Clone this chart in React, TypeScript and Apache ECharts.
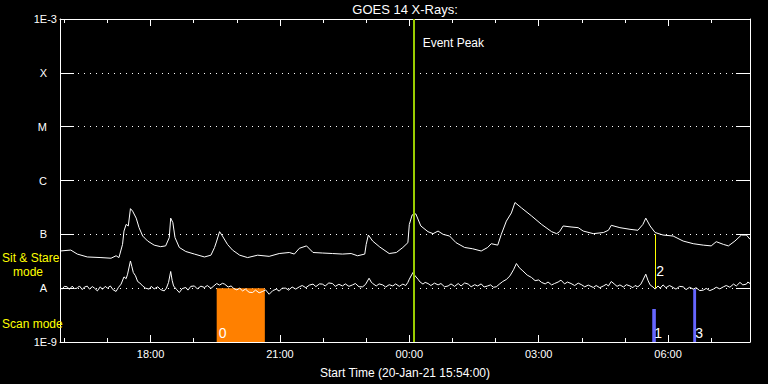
import React, { useEffect, useRef } from "react";
import * as echarts from "echarts";

const TITLE = "GOES 14 X-Rays:";
const X_NAME = "Start Time (20-Jan-21 15:54:00)";
const X_MIN = "15:54";
const X_MAX = "07:54";
const MAJOR_TICKS = ["18:00", "21:00", "00:00", "03:00", "06:00"];
const MINOR_TICKS = ["16:00", "17:00", "18:00", "19:00", "20:00", "21:00", "22:00", "23:00", "00:00", "01:00", "02:00", "03:00", "04:00", "05:00", "06:00", "07:00"];
const Y_LEVELS = [1e-9, 1e-8, 1e-7, 1e-6, 1e-5, 1e-4, 1e-3];
const Y_LABELS = ["1E-9", "A", "B", "C", "M", "X", "1E-3"];

const longTimes = ["15:54","16:09","16:18","16:32","16:51","17:05","17:12","17:16","17:21","17:23","17:26","17:29","17:32","17:35","17:40","17:44","17:49","17:56","18:05","18:14","18:21","18:26","18:28","18:31","18:34","18:40","18:49","19:01","19:15","19:24","19:29","19:32","19:36","19:40","19:47","19:54","20:04","20:15","20:29","20:45","20:59","21:13","21:20","21:27","21:37","21:46","21:59","22:13","22:27","22:39","22:48","22:58","23:00","23:03","23:09","23:19","23:32","23:42","23:51","23:58","00:00","00:04","00:09","00:16","00:26","00:33","00:40","00:47","00:56","01:05","01:17","01:28","01:40","01:49","01:54","02:03","02:08","02:15","02:22","02:27","02:36","02:50","03:04","03:18","03:25","03:29","03:34","03:45","03:55","04:02","04:16","04:30","04:37","04:41","04:53","05:07","05:18","05:25","05:29","05:35","05:42","05:53","06:07","06:21","06:35","06:49","07:00","07:07","07:17","07:24","07:33","07:42","07:49","07:54"];
const longFlux = [4.9e-8,5.1e-8,4.3e-8,3.8e-8,3.7e-8,3.6e-8,4.0e-8,3.7e-8,6.5e-8,1.15e-7,1.53e-7,1.43e-7,3.0e-7,2.7e-7,2.0e-7,1.33e-7,9.3e-8,7.5e-8,6.3e-8,5.9e-8,6.1e-8,8.7e-8,2.0e-7,1.65e-7,8.7e-8,5.7e-8,4.8e-8,4.3e-8,3.8e-8,4.1e-8,5.7e-8,7.5e-8,1.12e-7,9.3e-8,6.5e-8,5.1e-8,4.1e-8,3.7e-8,4.1e-8,3.9e-8,4.4e-8,4.6e-8,4.3e-8,5.5e-8,6.1e-8,4.6e-8,4.5e-8,4.4e-8,4.3e-8,4.4e-8,4.0e-8,4.3e-8,6.5e-8,9.7e-8,7.5e-8,5.8e-8,4.4e-8,4.6e-8,5.7e-8,7.0e-8,1.53e-7,2.3e-7,2.4e-7,1.43e-7,1.12e-7,1.03e-7,1.15e-7,1.0e-7,9.3e-8,7.0e-8,5.7e-8,5.4e-8,4.9e-8,5.7e-8,6.7e-8,6.3e-8,1.0e-7,1.76e-7,2.5e-7,3.9e-7,3.1e-7,2.2e-7,1.53e-7,1.12e-7,1.03e-7,1.12e-7,1.43e-7,1.37e-7,1.33e-7,1.15e-7,1.03e-7,1.08e-7,1.19e-7,1.47e-7,1.33e-7,1.24e-7,1.19e-7,1.53e-7,2.0e-7,1.43e-7,1.08e-7,9.7e-8,9.3e-8,7.5e-8,6.7e-8,6.3e-8,6.1e-8,7.3e-8,6.5e-8,6.1e-8,7.5e-8,9.7e-8,9.7e-8,8.1e-8];

// short channel: [time, flux]
const shortReadings: [string, number][] = [
  ["15:54",1.03e-8],["15:57",9.6e-9],["16:00",1.08e-8],["16:04",1.06e-8],["16:07",9.5e-9],["16:11",1.09e-8],["16:14",9.8e-9],["16:18",1.0e-8],
  ["16:21",1.1e-8],["16:25",9.4e-9],["16:28",1.05e-8],["16:32",1.09e-8],["16:35",9.6e-9],["16:39",1.07e-8],["16:42",1.0e-8],["16:46",8.9e-9],
  ["16:50",1.06e-8],["16:53",9.5e-9],["16:57",1.08e-8],["17:00",1.0e-8],["17:04",1.1e-8],["17:08",9.3e-9],["17:12",8.7e-9],["17:15",1.02e-8],
  ["17:19",1.19e-8],["17:23",1.62e-8],["17:26",1.5e-8],["17:28",1.82e-8],["17:32",3.2e-8],["17:34",2.5e-8],["17:36",1.95e-8],["17:39",1.7e-8],
  ["17:42",1.33e-8],["17:45",1.25e-8],["17:49",1.1e-8],["17:53",1.0e-8],["17:58",9.6e-9],["18:01",1.08e-8],["18:05",9.7e-9],["18:10",1.06e-8],
  ["18:14",9.4e-9],["18:19",8.9e-9],["18:22",1.0e-8],["18:25",1.28e-8],["18:28",2.04e-8],["18:30",1.4e-8],["18:32",1.1e-8],["18:36",9.5e-9],
  ["18:40",8.3e-9],["18:44",9.8e-9],["18:49",1.03e-8],["18:52",9.2e-9],["18:56",1.08e-8],["19:01",1.1e-8],["19:05",9.7e-9],["19:10",1.09e-8],
  ["19:15",1.03e-8],["19:19",1.12e-8],["19:24",9.9e-9],["19:28",1.1e-8],["19:32",1.22e-8],["19:36",1.14e-8],["19:40",1.23e-8],["19:43",1.19e-8],
  ["19:48",1.05e-8],["19:52",1.1e-8],["19:56",9.8e-9],["20:00",9.3e-9],["20:04",1.0e-8],["20:08",8.9e-9],["20:12",9.6e-9],["20:17",8.4e-9],
  ["20:22",8.3e-9],["20:26",9.2e-9],["20:31",8.2e-9],["20:36",8.7e-9],["20:40",9.3e-9],["20:45",7.7e-9],["20:50",9.0e-9],["20:55",9.6e-9],
  ["20:59",8.8e-9],["21:03",1.0e-8],["21:08",1.0e-8],["21:12",9.2e-9],["21:17",1.05e-8],["21:22",9.6e-9],["21:27",1.06e-8],["21:31",1.12e-8],
  ["21:36",1.02e-8],["21:41",1.14e-8],["21:46",1.19e-8],["21:50",1.07e-8],["21:55",1.2e-8],["21:59",1.19e-8],["22:03",1.1e-8],["22:08",1.25e-8],
  ["22:13",1.22e-8],["22:17",1.08e-8],["22:22",1.18e-8],["22:27",1.1e-8],["22:31",1.2e-8],["22:36",1.08e-8],["22:41",1.15e-8],["22:45",1.22e-8],
  ["22:50",1.06e-8],["22:55",1.06e-8],["22:59",1.17e-8],["23:04",1.53e-8],["23:07",1.3e-8],["23:09",1.22e-8],["23:14",1.1e-8],["23:18",1.2e-8],
  ["23:23",1.15e-8],["23:27",1.05e-8],["23:32",1.16e-8],["23:37",1.1e-8],["23:41",1.2e-8],["23:46",1.08e-8],["23:51",1.19e-8],["23:55",1.12e-8],
  ["23:58",1.28e-8],["00:00",1.47e-8],["00:05",1.95e-8],["00:08",1.7e-8],["00:12",1.47e-8],["00:15",1.3e-8],["00:19",1.19e-8],["00:22",1.28e-8],
  ["00:26",1.22e-8],["00:30",1.12e-8],["00:35",1.24e-8],["00:40",1.15e-8],["00:44",1.22e-8],["00:49",1.06e-8],["00:54",1.1e-8],["00:58",1.2e-8],
  ["01:03",1.08e-8],["01:08",1.22e-8],["01:12",1.1e-8],["01:17",1.25e-8],["01:22",1.19e-8],["01:26",1.06e-8],["01:31",1.16e-8],["01:35",1.1e-8],
  ["01:40",1.2e-8],["01:44",1.05e-8],["01:49",1.1e-8],["01:53",1.15e-8],["01:57",1.04e-8],["02:01",1.06e-8],["02:05",1.18e-8],["02:10",1.33e-8],
  ["02:15",1.45e-8],["02:20",1.69e-8],["02:25",2.2e-8],["02:29",2.87e-8],["02:33",2.4e-8],["02:38",2.09e-8],["02:44",1.75e-8],["02:50",1.58e-8],
  ["02:55",1.38e-8],["03:00",1.42e-8],["03:04",1.28e-8],["03:09",1.2e-8],["03:13",1.3e-8],["03:18",1.15e-8],["03:22",1.22e-8],["03:27",1.3e-8],
  ["03:31",1.41e-8],["03:36",1.2e-8],["03:40",1.3e-8],["03:45",1.22e-8],["03:50",1.12e-8],["03:55",1.24e-8],["04:00",1.15e-8],["04:04",1.06e-8],
  ["04:09",1.14e-8],["04:16",1.03e-8],["04:20",1.12e-8],["04:25",1.02e-8],["04:30",1.1e-8],["04:34",1.18e-8],["04:37",1.1e-8],["04:41",1.33e-8],
  ["04:45",1.2e-8],["04:49",1.08e-8],["04:53",1.15e-8],["04:58",1.05e-8],["05:02",1.16e-8],["05:07",1.1e-8],["05:11",1.02e-8],["05:14",1.12e-8],
  ["05:18",1.06e-8],["05:22",1.18e-8],["05:25",1.41e-8],["05:29",1.82e-8],["05:32",1.4e-8],["05:35",1.15e-8],["05:39",1.05e-8],["05:42",9.6e-9],
  ["05:46",1.1e-8],["05:49",1.0e-8],["05:53",1.15e-8],["05:57",1.02e-8],["06:02",1.12e-8],["06:07",1.03e-8],["06:11",9.6e-9],["06:16",1.08e-8],
  ["06:21",1.06e-8],["06:25",9.4e-9],["06:30",1.04e-8],["06:35",9.6e-9],["06:39",1.02e-8],["06:44",9.0e-9],["06:49",9.2e-9],["06:53",9.9e-9],
  ["06:58",9.0e-9],["07:03",9.6e-9],["07:07",1.04e-8],["07:12",9.7e-9],["07:17",1.06e-8],["07:21",1.12e-8],["07:26",1.04e-8],["07:31",1.19e-8],
  ["07:35",1.1e-8],["07:40",1.28e-8],["07:44",1.15e-8],["07:49",1.19e-8],["07:51",1.3e-8],["07:54",1.22e-8],
];

const EVENT_PEAK = "00:06";
const EVENT_LABEL = "Event Peak";
const SCAN_LABELS = ["0", "1", "3"];
const SCAN_STARTS = ["19:32", "05:38", "06:35"];
const SCAN_ENDS = ["20:39", "05:43", "06:39"];
const SCAN_TOPS = [1e-8, 4.1e-9, 9.6e-9];
const SCAN_COLORS = ["#ff8000", "#6666ff", "#6666ff"];
const STARE_LABEL = "2";
const STARE_TIME = "05:42";
const STARE_RANGE = [1e-8, 1e-7];
const MODE_LABELS = ["Sit & Stare", "mode", "Scan mode"];

const FONT = "Liberation Sans";

function toMin(s: string): number {
  const [h, m] = s.split(":").map(Number);
  return h * 60 + m + (h < 12 ? 1440 : 0);
}
function fmtMin(v: number): string {
  const t = Math.round(v) % 1440;
  const h = Math.floor(t / 60);
  const m = t % 60;
  return String(h).padStart(2, "0") + ":" + String(m).padStart(2, "0");
}

export default function App() {
  const ref = useRef<HTMLDivElement>(null);
  useEffect(() => {
    if (!ref.current) return;
    const chart = echarts.init(ref.current, null, { renderer: "svg" });
    const xmin = toMin(X_MIN);
    const xmax = toMin(X_MAX);
    const major = MAJOR_TICKS.map(toMin);
    const minor = MINOR_TICKS.map(toMin);
    const white = "#ffffff";
    const xBase = {
      type: "value",
      min: xmin,
      max: xmax,
      splitLine: { show: false },
      axisLine: { show: true, lineStyle: { color: white, width: 1 } },
    };
    const yBase = {
      type: "log",
      logBase: 10,
      min: Y_LEVELS[0],
      max: Y_LEVELS[Y_LEVELS.length - 1],
      splitNumber: 6,
      axisLine: { show: true, lineStyle: { color: white, width: 1 } },
      axisTick: { show: true, inside: true, length: 14, lineStyle: { color: white, width: 1 } },
    };
    const option: any = {
      animation: false,
      backgroundColor: "#000000",
      textStyle: { fontFamily: FONT },
      title: {
        text: TITLE,
        left: 405,
        top: 3,
        padding: 0,
        textAlign: "center",
        textStyle: { color: white, fontSize: 13, fontWeight: "normal", fontFamily: FONT },
      },
      grid: { left: 60, right: 18, top: 19, bottom: 41, containLabel: false },
      xAxis: [
        {
          ...xBase,
          position: "bottom",
          axisTick: { show: true, inside: true, length: 7, customValues: major, lineStyle: { color: white } },
          axisLabel: {
            show: true,
            customValues: major,
            formatter: (v: number) => fmtMin(v),
            color: white,
            fontSize: 11,
            fontFamily: FONT,
            margin: 6,
          },
          name: X_NAME,
          nameLocation: "middle",
          nameGap: 25,
          nameTextStyle: { color: white, fontSize: 12, fontFamily: FONT },
        },
        {
          ...xBase,
          position: "bottom",
          axisLine: { show: false },
          axisTick: { show: true, inside: true, length: 4, customValues: minor, lineStyle: { color: white } },
          axisLabel: { show: false },
        },
        {
          ...xBase,
          position: "top",
          axisTick: { show: true, inside: true, length: 7, customValues: major, lineStyle: { color: white } },
          axisLabel: { show: false },
        },
        {
          ...xBase,
          position: "top",
          axisLine: { show: false },
          axisTick: { show: true, inside: true, length: 4, customValues: minor, lineStyle: { color: white } },
          axisLabel: { show: false },
        },
      ],
      yAxis: [
        {
          ...yBase,
          position: "left",
          axisLabel: {
            show: true,
            margin: 3,
            color: white,
            fontSize: 11,
            fontFamily: FONT,
            formatter: (v: number) => {
              const i = Math.round(Math.log10(v)) + 9;
              const lab = Y_LABELS[i] ?? "";
              return lab.length > 1 ? "{w|" + lab + "}" : "{l|" + lab + "}";
            },
            rich: {
              w: { color: white, fontSize: 11, fontFamily: FONT },
              l: { color: white, fontSize: 11, fontFamily: FONT, padding: [0, 10, 0, 0] },
            },
          },
          splitLine: { show: true, lineStyle: { color: white, width: 1, type: [1, 5] } },
        },
        {
          ...yBase,
          position: "right",
          axisLabel: { show: false },
          splitLine: { show: false },
        },
      ],
      graphic: [
        { type: "text", left: 2, top: 252, z: 100, style: { text: MODE_LABELS[0], fill: "#ffff00", font: "12px " + FONT } },
        { type: "text", left: 13, top: 266, z: 100, style: { text: MODE_LABELS[1], fill: "#ffff00", font: "12px " + FONT } },
        { type: "text", left: 2, top: 318, z: 100, style: { text: MODE_LABELS[2], fill: "#ffff00", font: "12px " + FONT } },
      ],
      series: [
        {
          type: "line",
          name: "scan",
          data: [],
          z: 1,
          silent: true,
          markArea: {
            silent: true,
            data: SCAN_STARTS.map((s, i) => [
              {
                xAxis: toMin(s),
                yAxis: Y_LEVELS[0],
                itemStyle: { color: SCAN_COLORS[i], opacity: 1 },
                label: {
                  show: true,
                  position: "insideBottomLeft",
                  distance: 2,
                  formatter: SCAN_LABELS[i],
                  color: white,
                  fontSize: 14,
                  fontFamily: FONT,
                },
              },
              { xAxis: toMin(SCAN_ENDS[i]), yAxis: SCAN_TOPS[i] },
            ]),
          },
        },
        {
          type: "line",
          name: "long",
          data: longTimes.map((t, i) => [toMin(t), longFlux[i]]),
          showSymbol: false,
          symbol: "none",
          z: 3,
          lineStyle: { color: white, width: 1 },
        },
        {
          type: "line",
          name: "short",
          data: shortReadings.map(([t, f]) => [toMin(t), f]),
          showSymbol: false,
          symbol: "none",
          z: 3,
          lineStyle: { color: white, width: 1 },
        },
        {
          type: "line",
          name: "marks",
          data: [],
          z: 5,
          silent: true,
          markLine: {
            silent: true,
            symbol: "none",
            label: { show: false },
            data: [
              { xAxis: toMin(EVENT_PEAK), lineStyle: { color: "#99cc00", width: 2, type: "solid" } },
              [
                { coord: [toMin(STARE_TIME), STARE_RANGE[0]], lineStyle: { color: "#ffff00", width: 1, type: "solid" } },
                { coord: [toMin(STARE_TIME), STARE_RANGE[1]] },
              ],
            ],
          },
          markPoint: {
            silent: true,
            symbol: "circle",
            symbolSize: 0,
            data: [
              {
                coord: [toMin(EVENT_PEAK), 3.6e-4],
                label: { show: true, position: "right", distance: 9, formatter: EVENT_LABEL, color: white, fontSize: 12, fontFamily: FONT },
              },
              {
                coord: [toMin(STARE_TIME), 2.07e-8],
                label: { show: true, position: "right", distance: 1, formatter: STARE_LABEL, color: white, fontSize: 14, fontFamily: FONT },
              },
            ],
          },
        },
      ],
    };
    chart.setOption(option);
    return () => chart.dispose();
  }, []);
  return (
    <div
      ref={ref}
      style={{ position: "fixed", left: 0, top: 0, width: 768, height: 384, background: "#000" }}
    />
  );
}
